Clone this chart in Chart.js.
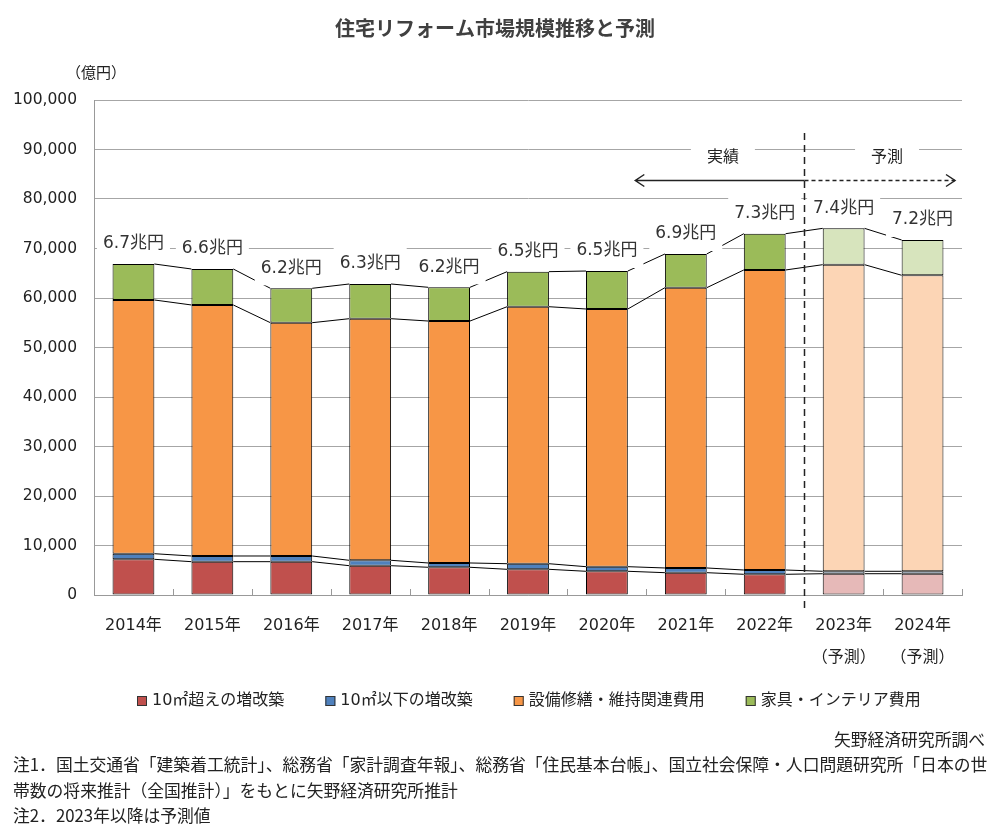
<!DOCTYPE html>
<html lang="ja">
<head>
<meta charset="utf-8">
<title>住宅リフォーム市場規模推移と予測</title>
<script src="https://cdn.jsdelivr.net/npm/chart.js@4.4.1/dist/chart.umd.min.js"></script>
<style>
  html, body { margin: 0; padding: 0; background: #fff; }
  #wrap { width: 1000px; height: 833px; }
</style>
</head>
<body>
<div id="wrap"><canvas id="chart" width="1000" height="833"></canvas></div>
<script>
// 単位：億円
const years = ['2014年', '2015年', '2016年', '2017年', '2018年', '2019年', '2020年', '2021年', '2022年',
    ['2023年', '（予測）'], ['2024年', '（予測）']];
const over10 = [7210, 6730, 6730, 5920, 5600, 5190, 4790, 4510, 4180, 4300, 4300];
const under10 = [1130, 1150, 1150, 1090, 870, 1130, 930, 950, 870, 490, 490];
const maintenance = [51260, 50710, 47130, 48810, 48880, 51920, 52060, 56620, 60610, 61940, 59800];
const furniture = [7270, 7270, 6950, 7010, 6810, 7080, 7670, 6810, 7330, 7340, 7130];
const seriesNames = ['10㎡超えの増改築', '10㎡以下の増改築', '設備修繕・維持関連費用', '家具・インテリア費用'];
const yMax = 100000;
const yStep = 10000;
const forecastFrom = 9;

const solidColors = ['#c0504d', '#4f81bd', '#f79646', '#9bbb59'];
const paleColors = ['#e6b9b8', '#b9cde5', '#fcd5b5', '#d7e4bd'];

const numFont = '"DejaVu Sans", "Noto Sans CJK JP", sans-serif';
const jpFont = '"Noto Sans CJK JP", sans-serif';

function barColors(k) {
    return years.map(function(y, i) { return i >= forecastFrom ? paleColors[k] : solidColors[k]; });
}

const seriesValues = [over10, under10, maintenance, furniture];
const datasets = seriesValues.map(function(vals, k) {
    return {
        label: seriesNames[k],
        data: vals,
        backgroundColor: barColors(k),
        borderColor: '#000',
        borderWidth: 1,
        borderSkipped: false,
        barPercentage: 0.53,
        categoryPercentage: 1.0,
        legendColor: solidColors[k]
    };
});

const decorPlugin = {
    id: 'decor',
    beforeDatasetsDraw: function(chart) {
        const ctx = chart.ctx;
        ctx.save();
        ctx.strokeStyle = '#000';
        ctx.lineWidth = 1;
        chart.data.datasets.forEach(function(d, k) {
            const els = chart.getDatasetMeta(k).data;
            for (let i = 0; i < els.length - 1; i++) {
                const a = els[i], b = els[i + 1];
                ctx.beginPath();
                ctx.moveTo(a.x + a.width / 2, a.y);
                ctx.lineTo(b.x - b.width / 2, b.y);
                ctx.stroke();
            }
        });
        ctx.restore();
    },
    afterDatasetsDraw: function(chart) {
        const ctx = chart.ctx;
        const area = chart.chartArea;
        const xs = chart.scales.x;
        const ys = chart.scales.y;
        const last = chart.getDatasetMeta(chart.data.datasets.length - 1).data;
        ctx.save();

        // 合計ラベル
        ctx.font = '17px ' + numFont;
        ctx.textAlign = 'center';
        ctx.textBaseline = 'middle';
        last.forEach(function(el, i) {
            let total = 0;
            seriesValues.forEach(function(v) { total += v[i]; });
            const text = (total / 10000).toFixed(1) + '兆円';
            const w = ctx.measureText(text).width;
            const cy = el.y - 20;
            ctx.fillStyle = '#fff';
            ctx.fillRect(el.x - w / 2 - 6, cy - 17, w + 12, 34);
            ctx.fillStyle = '#333';
            ctx.fillText(text, el.x, cy);
        });

        // x軸の内向き目盛
        ctx.strokeStyle = '#999';
        ctx.lineWidth = 1;
        for (let i = 1; i <= years.length; i++) {
            const px = Math.round(xs.getPixelForValue(i - 0.5)) + 0.5;
            ctx.beginPath();
            ctx.moveTo(px, area.bottom);
            ctx.lineTo(px, area.bottom - 6);
            ctx.stroke();
        }

        // 実績 / 予測
        const split = Math.round((xs.getPixelForValue(forecastFrom - 1) + xs.getPixelForValue(forecastFrom)) / 2) + 0.5;
        const textY = ys.getPixelForValue(88800);
        const arrowY = Math.round(ys.getPixelForValue(83800)) + 0.5;
        ctx.font = '16px ' + jpFont;
        [['実績', xs.getPixelForValue(7.47)], ['予測', xs.getPixelForValue(9.55)]].forEach(function(t) {
            const w = ctx.measureText(t[0]).width;
            ctx.fillStyle = '#fff';
            ctx.fillRect(t[1] - w / 2 - 16, textY - 10, w + 32, 20);
            ctx.fillStyle = '#222';
            ctx.fillText(t[0], t[1], textY);
        });

        const leftEnd = xs.getPixelForValue(6.36);
        const rightEnd = area.right - 7;
        ctx.strokeStyle = '#222';
        ctx.lineWidth = 1.5;
        ctx.beginPath();
        ctx.moveTo(leftEnd, arrowY);
        ctx.lineTo(split, arrowY);
        ctx.moveTo(leftEnd + 9, arrowY - 6);
        ctx.lineTo(leftEnd, arrowY);
        ctx.lineTo(leftEnd + 9, arrowY + 6);
        ctx.stroke();
        ctx.beginPath();
        ctx.moveTo(rightEnd - 9, arrowY - 6);
        ctx.lineTo(rightEnd, arrowY);
        ctx.lineTo(rightEnd - 9, arrowY + 6);
        ctx.stroke();
        ctx.setLineDash([4, 3]);
        ctx.beginPath();
        ctx.moveTo(split, arrowY);
        ctx.lineTo(rightEnd, arrowY);
        ctx.stroke();

        ctx.setLineDash([7, 5]);
        ctx.beginPath();
        ctx.moveTo(split, area.top + 33);
        ctx.lineTo(split, area.bottom + 18);
        ctx.stroke();
        ctx.restore();
    },
    afterDraw: function(chart) {
        const ctx = chart.ctx;
        ctx.save();
        ctx.fillStyle = '#404040';
        ctx.textBaseline = 'middle';
        ctx.textAlign = 'center';
        ctx.font = 'bold 20px ' + jpFont;
        ctx.fillText('住宅リフォーム市場規模推移と予測', 495, 28);

        ctx.fillStyle = '#222';
        ctx.font = '15px ' + jpFont;
        ctx.fillText('（億円）', 96, 72);

        // 凡例
        ctx.textAlign = 'left';
        ctx.font = '16px ' + numFont;
        let lx = 137;
        chart.data.datasets.forEach(function(d) {
            ctx.fillStyle = d.legendColor;
            ctx.fillRect(lx, 696, 10, 10);
            ctx.strokeStyle = '#333';
            ctx.lineWidth = 1;
            ctx.strokeRect(lx + 0.5, 696.5, 9, 9);
            ctx.fillStyle = '#222';
            ctx.fillText(d.label, lx + 15, 701);
            lx += 15 + ctx.measureText(d.label).width + 41;
        });

        // 出典・注記
        ctx.font = '16.8px ' + jpFont;
        ctx.textAlign = 'right';
        ctx.fillText('矢野経済研究所調べ', 985, 740);
        ctx.textAlign = 'left';
        ctx.fillText('注1．国土交通省「建築着工統計」、総務省「家計調査年報」、総務省「住民基本台帳」、国立社会保障・人口問題研究所「日本の世', 13, 765);
        ctx.fillText('帯数の将来推計（全国推計）」をもとに矢野経済研究所推計', 13, 791);
        ctx.fillText('注2．2023年以降は予測値', 13, 816);
        ctx.restore();
    }
};

new Chart(document.getElementById('chart').getContext('2d'), {
    type: 'bar',
    data: { labels: years, datasets: datasets },
    options: {
        responsive: false,
        animation: false,
        layout: { padding: { top: 100, right: 38, left: 0, bottom: 158 } },
        plugins: {
            legend: { display: false },
            tooltip: { enabled: false }
        },
        scales: {
            x: {
                stacked: true,
                grid: { display: false, drawTicks: false },
                border: { display: true, color: '#999', width: 1 },
                ticks: {
                    color: '#222',
                    padding: 15,
                    maxRotation: 0,
                    autoSkip: false,
                    font: { family: numFont, size: 16, lineHeight: 2 }
                },
                afterFit: function(scale) { scale.height = 80; }
            },
            y: {
                stacked: true,
                min: 0,
                max: yMax,
                grid: { color: '#a6a6a6', lineWidth: 1, drawTicks: false },
                border: { display: true, color: '#999', width: 1 },
                ticks: {
                    stepSize: yStep,
                    padding: 17,
                    color: '#222',
                    font: { family: numFont, size: 15.5 },
                    callback: function(v) { return v.toLocaleString('en-US'); }
                },
                afterFit: function(scale) { scale.width = 94; }
            }
        }
    },
    plugins: [decorPlugin]
});
</script>
</body>
</html>
